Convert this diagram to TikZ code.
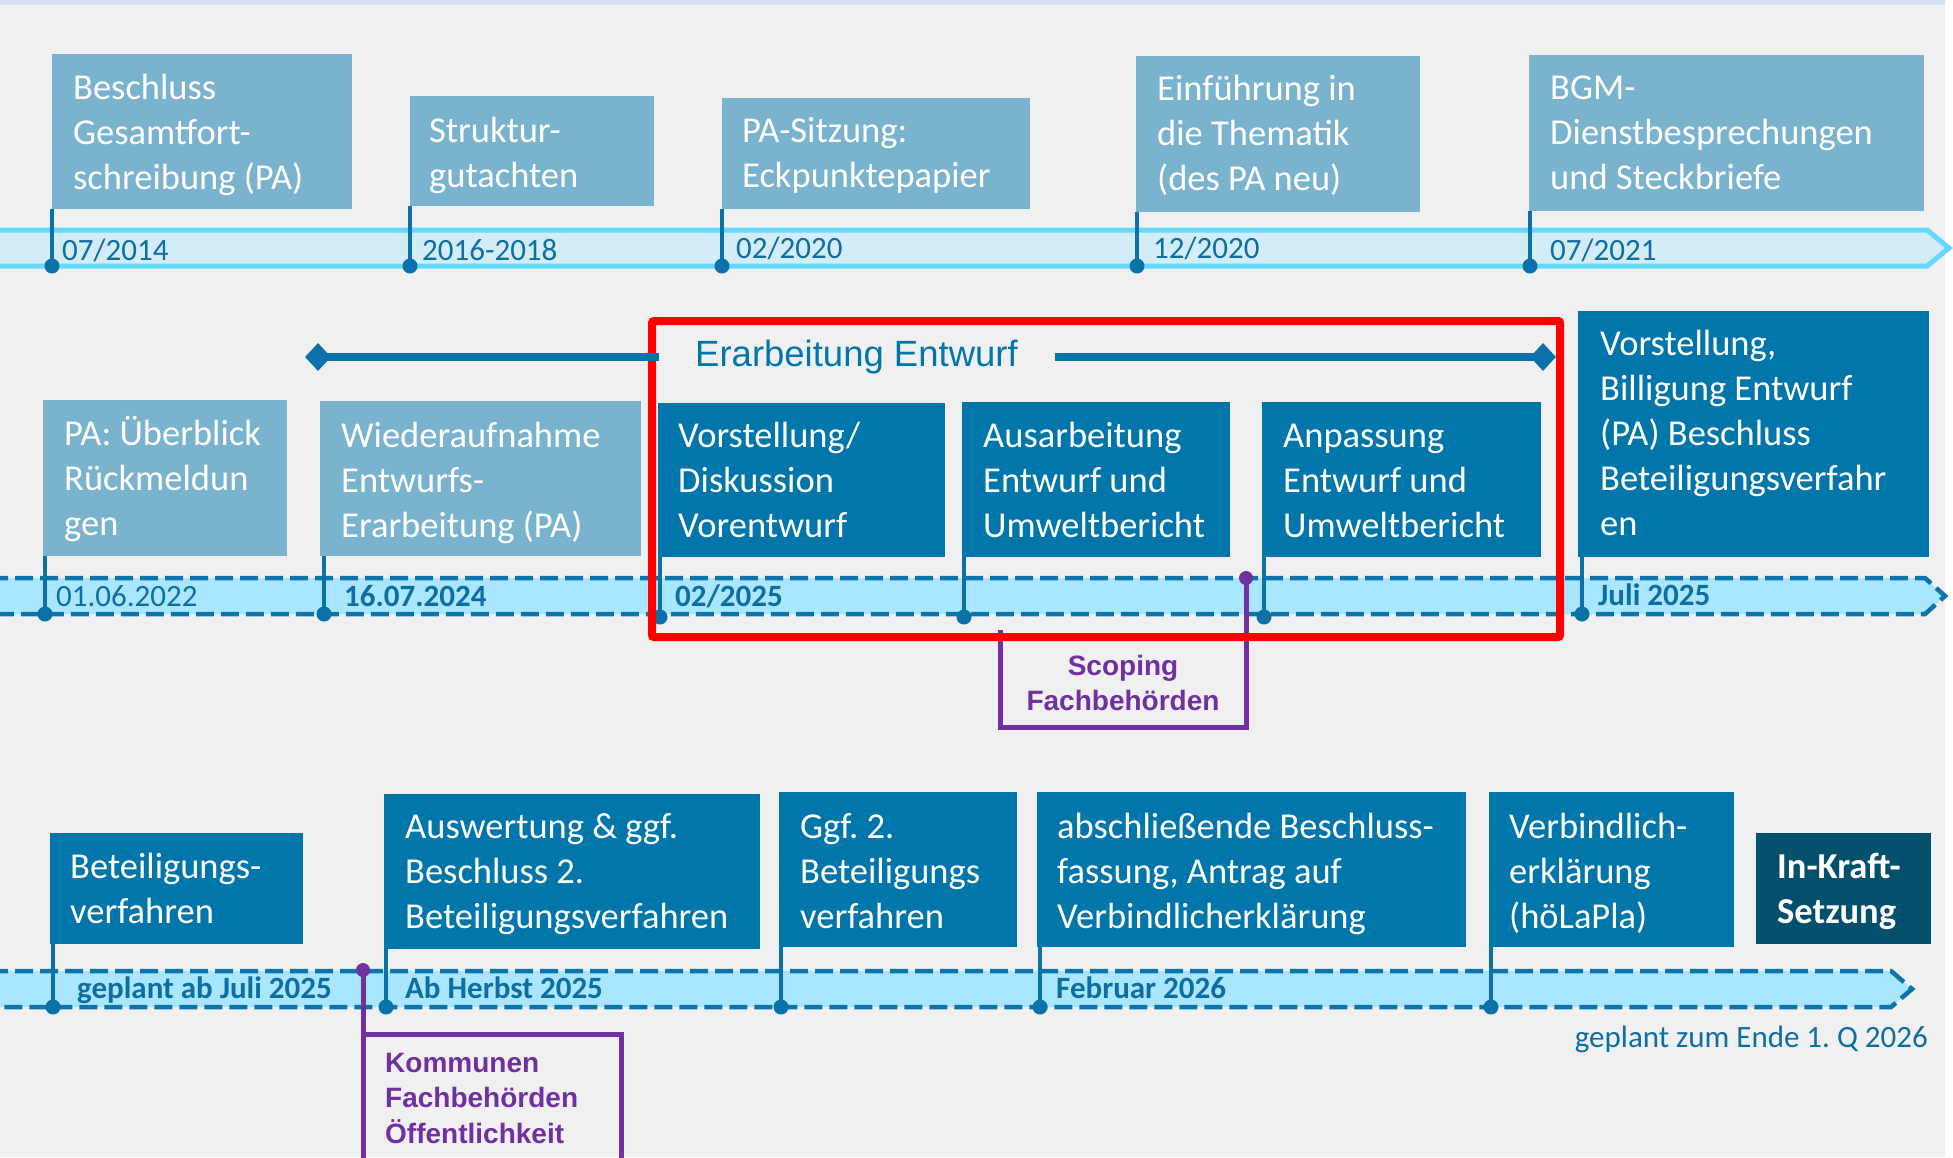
\documentclass[tikz,border=0pt]{standalone}
\usepackage{fontspec}
\setmainfont{Carlito}
\newfontfamily\arialfont{Liberation Sans}
\usetikzlibrary{shapes.geometric}

\definecolor{bggray}{HTML}{F0F0F0}
\definecolor{topstrip}{HTML}{D3E2EE}
\definecolor{lightbox}{HTML}{7AB3CE}
\definecolor{darkbox}{HTML}{0076AB}
\definecolor{deepbox}{HTML}{03506D}
\definecolor{markblue}{HTML}{0A72A8}
\definecolor{datetext}{HTML}{0E6DA2}
\definecolor{bandfillA}{HTML}{D2EDF7}
\definecolor{bandlineA}{HTML}{66D8FF}
\definecolor{bandfillB}{HTML}{A8E7FF}
\definecolor{bandlineB}{HTML}{0B74AA}
\definecolor{scopepurple}{HTML}{7030A0}
\definecolor{framered}{HTML}{FF0000}

\newcommand\boxfont{\fontsize{36.5}{45}\selectfont\frenchspacing}
\newcommand\datefont{\fontsize{31}{37}\selectfont\frenchspacing}
\newcommand\purplefont{\arialfont\bfseries\fontsize{28}{35.5}\selectfont}

\tikzset{
  x=1pt, y=-1pt,
  lbox/.style={fill=lightbox, inner sep=0pt, anchor=north west},
  dbox/.style={fill=darkbox, inner sep=0pt, anchor=north west},
  kbox/.style={fill=deepbox, inner sep=0pt, anchor=north west},
  btxt/.style={text=white, font=\boxfont, align=flush left, text width=480pt, anchor=base west, inner sep=0pt},
  stem/.style={draw=markblue, line width=3.5pt},
  marker/.style={circle, fill=markblue, inner sep=0pt, minimum size=15pt},
  pmarker/.style={circle, fill=scopepurple, inner sep=0pt, minimum size=14pt},
  datelbl/.style={text=datetext, font=\datefont, anchor=base west, inner sep=0pt},
  datebold/.style={text=datetext, font=\datefont\bfseries, anchor=base west, inner sep=0pt},
  pline/.style={draw=scopepurple, line width=5pt},
  ptxt/.style={text=scopepurple, font=\purplefont, inner sep=0pt},
  tip/.style={diamond, fill=markblue, inner sep=0pt, minimum width=26pt, minimum height=28pt},
}

\begin{document}
\begin{tikzpicture}
% canvas
\fill[bggray] (0,0) rectangle (1953,1157);
\useasboundingbox (0,0) rectangle (1953,1157);
\fill[white] (1945,0) rectangle (1953,1157);
\fill[topstrip] (0,0) rectangle (1945,5);

% ---------- row 1: past milestones ----------
\draw[fill=bandfillA, draw=bandlineA, line width=5pt]
  (-10,230) -- (1927,230) -- (1949,248) -- (1927,266) -- (-10,266) -- cycle;

\node[lbox, minimum width=300pt, minimum height=155pt] (b1) at (52,54) {};
\node[lbox, minimum width=244pt, minimum height=110pt] (b2) at (410,96) {};
\node[lbox, minimum width=308pt, minimum height=111pt] (b3) at (722,98) {};
\node[lbox, minimum width=284pt, minimum height=156pt] (b4) at (1136,56) {};
\node[lbox, minimum width=395pt, minimum height=156pt] (b5) at (1529,55) {};

\node[btxt] (t1) at (73,99) {Beschluss\\Gesamtfort-\\schreibung (PA)};
\node[btxt] (t2) at (429,142) {Struktur-\\gutachten};
\node[btxt] (t3) at (742,142) {PA-Sitzung:\\Eckpunktepapier};
\node[btxt] (t4) at (1157,100) {Einführung in\\die Thematik\\(des PA neu)};
\node[btxt] (t5) at (1550,99) {BGM-\\Dienstbesprechungen\\und Steckbriefe};

\node[marker] (d1) at (52,266) {};
\node[marker] (d2) at (410,266) {};
\node[marker] (d3) at (722,266) {};
\node[marker] (d4) at (1137,266) {};
\node[marker] (d5) at (1530,266) {};
\foreach \i in {1,...,5} \draw[stem] (d\i.center) -- (d\i.center |- b\i.south);

\node[datelbl] (z1) at (62,260) {07/2014};
\node[datelbl] (z2) at (422,260) {2016-2018};
\node[datelbl] (z3) at (736,258) {02/2020};
\node[datelbl] (z4) at (1153,258) {12/2020};
\node[datelbl] (z5) at (1550,260) {07/2021};

% ---------- row 2: draft phase ----------
\draw[fill=bandfillB, draw=bandlineB, line width=4.5pt, dash pattern=on 18pt off 7pt]
  (-10,578) -- (1925,578) -- (1945,596) -- (1925,614) -- (-10,614) -- cycle;

\node[lbox, minimum width=244pt, minimum height=156pt] (b6) at (43,400) {};
\node[lbox, minimum width=321pt, minimum height=155pt] (b7) at (320,401) {};
\node[dbox, minimum width=287pt, minimum height=154pt] (b8) at (658,403) {};
\node[dbox, minimum width=268pt, minimum height=155pt] (b9) at (962,402) {};
\node[dbox, minimum width=279pt, minimum height=155pt] (b10) at (1262,402) {};
\node[dbox, minimum width=351pt, minimum height=246pt] (b11) at (1578,311) {};

\node[btxt] (t6) at (64,445) {PA: Überblick\\Rückmeldun\\gen};
\node[btxt] (t7) at (341,447) {Wiederaufnahme\\Entwurfs-\\Erarbeitung (PA)};
\node[btxt] (t8) at (678,447) {Vorstellung/\\Diskussion\\Vorentwurf};
\node[btxt] (t9) at (983,447) {Ausarbeitung\\Entwurf und\\Umweltbericht};
\node[btxt] (t10) at (1283,447) {Anpassung\\Entwurf und\\Umweltbericht};
\node[btxt] (t11) at (1600,355) {Vorstellung,\\Billigung Entwurf\\(PA) Beschluss\\Beteiligungsverfahr\\en};

\node[marker] (d6) at (45,614) {};
\node[marker] (d7) at (324,614) {};
\node[marker] (d8) at (660,617) {};
\node[marker] (d9) at (964,617) {};
\node[marker] (d10) at (1264,617) {};
\node[marker] (d11) at (1582,614) {};
\foreach \i in {6,...,11} \draw[stem] (d\i.center) -- (d\i.center |- b\i.south);

\node[datelbl] (z6) at (56,606) {01.06.2022};
\node[datebold] (z7) at (344,606) {16.07.2024};
\node[datebold] (z8) at (675,606) {02/2025};
\node[datebold] (z11) at (1598,605) {Juli 2025};

% scoping with the authorities
\node[pmarker] (p1) at (1246,578) {};
\draw[pline] (p1.center) -- (1246,727) -- (1000,727) -- (1000,630);
\node[ptxt, align=center, text width=240pt, anchor=base] (s1) at (1123,675) {Scoping\\Fachbehörden};

% frame around the drafting steps
\draw[framered, line width=8pt, rounded corners=2pt] (652,321) rectangle (1560,637);

% span of the drafting work
\node[tip] (eL) at (318,357) {};
\node[tip] (eR) at (1543,357) {};
\coordinate (eLend) at (659,357);
\coordinate (eRstart) at (1055,357);
\draw[markblue, line width=8pt] (eL.center) -- (eLend);
\draw[markblue, line width=8pt] (eRstart) -- (eR.center);
\node[text=darkbox, font=\arialfont\fontsize{36.5}{43}\selectfont, anchor=base west, inner sep=0pt] (elbl) at (695,366) {Erarbeitung Entwurf};

% ---------- row 3: participation and adoption ----------
\draw[fill=bandfillB, draw=bandlineB, line width=4.5pt, dash pattern=on 18pt off 7pt]
  (-10,971) -- (1891,971) -- (1912,989) -- (1891,1007) -- (-10,1007) -- cycle;

\node[dbox, minimum width=253pt, minimum height=111pt] (b12) at (50,833) {};
\node[dbox, minimum width=376pt, minimum height=155pt] (b13) at (384,794) {};
\node[dbox, minimum width=238pt, minimum height=155pt] (b14) at (779,792) {};
\node[dbox, minimum width=429pt, minimum height=155pt] (b15) at (1037,792) {};
\node[dbox, minimum width=245pt, minimum height=155pt] (b16) at (1489,792) {};
\node[kbox, minimum width=175pt, minimum height=111pt] (b17) at (1756,833) {};

\node[btxt] (t12) at (70,878) {Beteiligungs-\\verfahren};
\node[btxt] (t13) at (405,838) {Auswertung \& ggf.\\Beschluss 2.\\Beteiligungsverfahren};
\node[btxt] (t14) at (800,838) {Ggf. 2.\\Beteiligungs\\verfahren};
\node[btxt] (t15) at (1057,838) {abschließende Beschluss-\\fassung, Antrag auf\\Verbindlicherklärung};
\node[btxt] (t16) at (1509,838) {Verbindlich-\\erklärung\\(höLaPla)};
\node[btxt, font=\boxfont\bfseries] (t17) at (1777,878) {In-Kraft-\\Setzung};

\node[marker] (d12) at (53,1007) {};
\node[marker] (d13) at (386,1007) {};
\node[marker] (d14) at (781,1007) {};
\node[marker] (d15) at (1040,1007) {};
\node[marker] (d16) at (1491,1007) {};
\foreach \i in {12,...,16} \draw[stem] (d\i.center) -- (d\i.center |- b\i.south);

\node[datebold] (z12) at (77,998) {geplant ab Juli 2025};
\node[datebold] (z13) at (405,998) {Ab Herbst 2025};
\node[datebold] (z15) at (1056,998) {Februar 2026};
\node[text=datetext, font=\datefont, anchor=base east, inner sep=0pt] (z17) at (1928,1047) {geplant zum Ende 1. Q 2026};

% public participation
\node[pmarker] (p2) at (363,970) {};
\draw[pline] (p2.center) -- (363,1034) -- (621,1034) -- (621,1180);
\draw[pline] (363,1034) -- (363,1180);
\node[ptxt, align=flush left, text width=300pt, anchor=base west] (s2) at (385,1072) {Kommunen\\Fachbehörden\\Öffentlichkeit};
\end{tikzpicture}
\end{document}
